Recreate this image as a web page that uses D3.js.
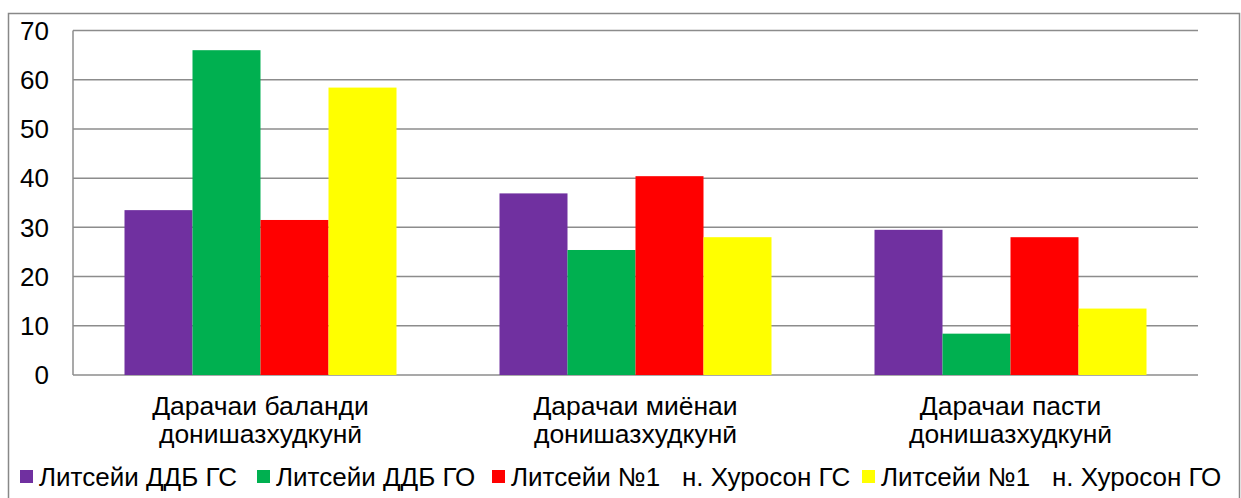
<!DOCTYPE html>
<html><head><meta charset="utf-8">
<script src="https://cdn.jsdelivr.net/npm/d3@7"></script>
</head><body>
<script>
const categories = [["Дарачаи баланди","донишазхудкунӣ"],["Дарачаи миёнаи","донишазхудкунӣ"],["Дарачаи пасти","донишазхудкунӣ"]];
const seriesNames = ["Литсейи ДДБ ГС","Литсейи ДДБ ГО","Литсейи №1   н. Хуросон ГС","Литсейи №1   н. Хуросон ГО"];
const seriesColors = ["#7030A0","#00B050","#FF0000","#FFFF00"];
const s1 = [33.5, 36.9, 29.5];
const s2 = [66.0, 25.4, 8.4];
const s3 = [31.5, 40.4, 28.0];
const s4 = [58.4, 28.0, 13.5];
const yTicks = [0,10,20,30,40,50,60,70];
const series = [s1,s2,s3,s4];
const FF = '"Liberation Sans", Arial, sans-serif';

document.body.style.margin="0";
const W=1241,H=498;
const svg=d3.select("body").append("svg").attr("width",W).attr("height",H).style("display","block");
svg.append("rect").attr("x",8.5).attr("y",13.5).attr("width",1231).attr("height",520).attr("fill","#fff").attr("stroke","#888").attr("stroke-width",1.5);

const L=73,R=1198,T=30.5,B=375;
const y=d3.scaleLinear().domain([0,70]).range([B,T]);
const x0=d3.scaleBand().domain(d3.range(3)).range([L,R]).padding(0);
const gap=103;
const x1=d3.scaleBand().domain(d3.range(4)).range([gap/2,x0.bandwidth()-gap/2]).padding(0);

svg.append("g").selectAll("line").data(yTicks).join("line")
 .attr("x1",L).attr("x2",R).attr("y1",d=>y(d)).attr("y2",d=>y(d))
 .attr("stroke","#8c8c8c").attr("stroke-width",1.5);
svg.append("line").attr("x1",L).attr("x2",L).attr("y1",T).attr("y2",B).attr("stroke","#8c8c8c").attr("stroke-width",1.5);

const g=svg.append("g");
series.forEach((s,si)=>{
  g.append("g").selectAll("rect").data(s).join("rect")
   .attr("x",(d,i)=>x0(i)+x1(si)).attr("width",x1.bandwidth())
   .attr("y",d=>y(d)).attr("height",d=>B-y(d)).attr("fill",seriesColors[si]);
});

const yAxis=d3.axisLeft(y).tickValues(yTicks).tickSize(0).tickPadding(0);
const ga=svg.append("g").attr("transform","translate(49,0)").call(yAxis);
ga.select(".domain").remove();
ga.attr("font-family",null);
ga.selectAll("text").style("font-family",FF).attr("font-size",26).attr("fill","#000").attr("dy","0.34em");

categories.forEach((c,i)=>{
  const cx=x0(i)+x0.bandwidth()/2;
  svg.append("text").style("font-family",FF).attr("font-size",26.5).attr("x",cx).attr("y",415).attr("text-anchor","middle").text(c[0]);
  svg.append("text").style("font-family",FF).attr("font-size",26.5).attr("x",cx).attr("y",443).attr("text-anchor","middle").text(c[1]);
});

const legX=[20,257,492,862];
seriesNames.forEach((n,i)=>{
  svg.append("rect").attr("x",legX[i]).attr("y",470).attr("width",13).attr("height",13).attr("fill",seriesColors[i]);
  svg.append("text").style("font-family",FF).attr("font-size",26).attr("x",legX[i]+19).attr("y",486).style("white-space","pre").text(n);
});
</script></body></html>
